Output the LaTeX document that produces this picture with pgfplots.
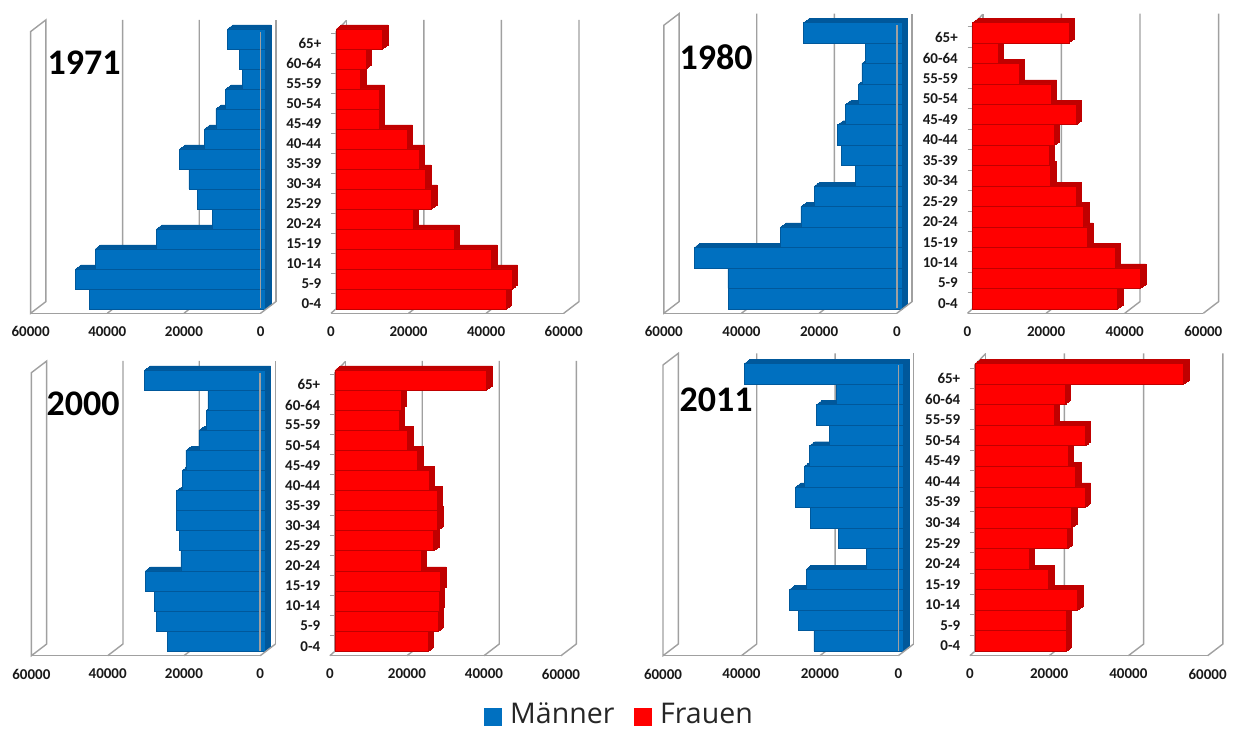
\documentclass[border=0pt]{standalone}
\usepackage{pgfplots}
\usepackage{pgfplotstable}
\usepackage{fontspec}
\pgfplotsset{compat=1.18}
\setmainfont{Carlito}
\newfontfamily\legendfont{Open Sans}
\definecolor{mblue}{HTML}{0070C0}
\definecolor{mbluedark}{HTML}{00589B}
\definecolor{mred}{HTML}{FF0000}
\definecolor{mreddark}{HTML}{C00000}
\definecolor{wallgray}{HTML}{A0A0A0}

% Values per age group: 0 = 0-4 ... 13 = 65+
\pgfplotstableread{
c v
0 46000
1 49600
2 44500
3 28500
4 13800
5 17700
6 20000
7 22400
8 16000
9 13000
10 10400
11 6100
12 6800
13 10000
}\mAa
\pgfplotstableread{
c v
0 43900
1 45400
2 40100
3 30400
4 19900
5 24600
6 23100
7 21400
8 18300
9 11100
10 11100
11 6300
12 7700
13 12000
}\fAa
\pgfplotstableread{
c v
0 44600
1 44800
2 53500
3 31200
4 26000
5 22600
6 11900
7 15500
8 16500
9 14500
10 11100
11 10300
12 9400
13 25300
}\mBb
\pgfplotstableread{
c v
0 36900
1 42700
2 36200
3 29300
4 28200
5 26400
6 19800
7 19400
8 20800
9 26300
10 20000
11 11800
12 6500
13 24500
}\fBb
\pgfplotstableread{
c v
0 25600
1 28600
2 29100
3 31500
4 22100
5 22600
6 23200
7 23200
8 21800
9 20800
10 17400
11 15400
12 15000
13 31600
}\mCc
\pgfplotstableread{
c v
0 24200
1 26800
2 27000
3 27400
4 22300
5 25600
6 26700
7 26500
8 24400
9 21400
10 18800
11 16700
12 17100
13 39400
}\fCc
\pgfplotstableread{
c v
0 22800
1 26700
2 29100
3 24800
4 9500
5 16500
6 23700
7 27500
8 25300
9 24000
10 18900
11 22200
12 17000
13 40600
}\mDd
\pgfplotstableread{
c v
0 23000
1 23000
2 25900
3 18600
4 13700
5 23300
6 24400
7 27800
8 25400
9 23500
10 27800
11 20000
12 22700
13 52600
}\fDd

\tikzset{wall/.style={draw=wallgray,line width=1.4pt}}
\pgfplotsset{
  panel/.style={
    scale only axis, clip=false,
    xmin=0, xmax=60000,
    ymax=13.5,
    xtick={0,20000,40000,60000},
    scaled x ticks=false,
    /pgf/number format/1000 sep={},
    /pgf/number format/assume math mode=true,
    major tick length=0pt,
    axis x line*=bottom,
    x axis line style={wallgray,line width=1.4pt},
    xticklabel style={font=\bfseries\fontsize{15}{15}\selectfont,inner sep=0pt,yshift=-13pt,text=black!90},
    xbar, bar width=1, bar shift=0pt,
  },
}
\newcommand{\extrude}[3]{%
  \addplot[forget plot,draw=#2,fill=#2,xshift=5.9pt,yshift=0.67pt] table[x=v,y=c] {#1};
  \addplot[forget plot,draw=#2,fill=#2,xshift=6.8pt,yshift=1.33pt] table[x=v,y=c] {#1};
  \addplot[forget plot,draw=#2,fill=#2,xshift=7.7pt,yshift=2pt] table[x=v,y=c] {#1};
  \addplot[forget plot,draw=#2,fill=#2,xshift=8.6pt,yshift=2.67pt] table[x=v,y=c] {#1};
  \addplot[forget plot,draw=#2,fill=#2,xshift=9.5pt,yshift=3.33pt] table[x=v,y=c] {#1};
  \addplot[forget plot,draw=#2,fill=#2,xshift=10.4pt,yshift=4pt] table[x=v,y=c] {#1};
  \addplot[forget plot,draw=#2,line width=0.5pt,fill=#3,xshift=5pt] table[x=v,y=c] {#1};
}
% #1 left px  #2 width px  #3 floor py  #4 unit per age group  #5 wall height  #6 table
\newcommand{\malepanel}[6]{%
  \pgfmathsetmacro{\ymn}{-0.5-4.5/#4}
  \pgfmathsetmacro{\axh}{14*#4+4.5}
  \pgfmathsetmacro{\axy}{729-#3}
  \begin{axis}[panel,at={(#1pt,\axy pt)},anchor=south west,
    width=#2pt,height=\axh pt,ymin=\ymn,x dir=reverse,axis y line=none]
    \draw[wall] (axis cs:60000,\ymn) -- ++(0pt,#5pt) -- ++(15.3pt,11.7pt) -- ++(0pt,-#5pt) -- cycle;
    \draw[wall] (axis cs:40000,\ymn) -- ++(15.3pt,11.7pt) -- ++(0pt,#5pt);
    \draw[wall] (axis cs:20000,\ymn) -- ++(15.3pt,11.7pt) -- ++(0pt,#5pt);
    \draw[wall] (axis cs:0,\ymn) ++(15.3pt,11.7pt) -- ++(0pt,#5pt);
    \extrude{#6}{mbluedark}{mblue}
    \draw[wall] (axis cs:0,\ymn) -- ++(15.3pt,11.7pt);
    \draw[wall] (axis cs:0,\ymn) ++(0pt,5pt) -- ++(0pt,{#5pt-5pt});
  \end{axis}
}
\newcommand{\femalepanel}[6]{%
  \pgfmathsetmacro{\ymn}{-0.5-4.5/#4}
  \pgfmathsetmacro{\axh}{14*#4+4.5}
  \pgfmathsetmacro{\axy}{729-#3}
  \begin{axis}[panel,at={(#1pt,\axy pt)},anchor=south west,
    width=#2pt,height=\axh pt,ymin=\ymn,
    axis y line*=left, y axis line style={draw=none},
    ytick={0,...,13},
    yticklabels={0-4,5-9,10-14,15-19,20-24,25-29,30-34,35-39,40-44,45-49,50-54,55-59,60-64,65+},
    yticklabel style={font=\bfseries\fontsize{15}{15}\selectfont,inner sep=0pt,xshift=-9.5pt,yshift=-5pt,text=black!90}]
    \draw[wall] (axis cs:0,\ymn) ++(15.3pt,11.7pt) -- ++(0pt,#5pt);
    \draw[wall] (axis cs:20000,\ymn) -- ++(15.3pt,11.7pt) -- ++(0pt,#5pt);
    \draw[wall] (axis cs:40000,\ymn) -- ++(15.3pt,11.7pt) -- ++(0pt,#5pt);
    \draw[wall] (axis cs:60000,\ymn) -- ++(15.3pt,11.7pt) -- ++(0pt,#5pt);
    \draw[wall] (axis cs:0,\ymn) -- ++(5pt,4.5pt) -- ++(0pt,{#5pt-4.5pt}) -- ++(10.3pt,11pt);
    \pgfplotsinvokeforeach{1,...,14}{
      \draw[wall,line width=1pt] (axis cs:0,{\ymn+##1}) -- ++(5pt,0pt);
    }
    \extrude{#6}{mreddark}{mred}
  \end{axis}
}

\begin{document}
\begin{tikzpicture}[x=1pt,y=1pt]
  \path[use as bounding box] (0,0) rectangle (1233,729);
  \malepanel{30.6}{230}{313.3}{20.0}{281.7}{\mAa}
  \femalepanel{331}{232.7}{313.3}{20.0}{281.7}{\fAa}
  \malepanel{663.8}{233}{313.3}{20.45}{288}{\mBb}
  \femalepanel{967.5}{235.8}{313.3}{20.45}{288}{\fBb}
  \malepanel{31.4}{228.8}{655.7}{20.1}{283}{\mCc}
  \femalepanel{329.9}{231.1}{655.7}{20.1}{283}{\fCc}
  \malepanel{663}{235.3}{655.7}{20.55}{290.7}{\mDd}
  \femalepanel{969.9}{237.7}{655.7}{20.55}{290.7}{\fDd}
  \node[font=\bfseries\fontsize{36}{36}\selectfont] at (84,666) {1971};
  \node[font=\bfseries\fontsize{36}{36}\selectfont] at (716,672) {1980};
  \node[font=\bfseries\fontsize{36}{36}\selectfont] at (83,325) {2000};
  \node[font=\bfseries\fontsize{36}{36}\selectfont] at (716,329) {2011};
  \fill[mblue] (484,3) rectangle (502,21);
  \node[anchor=base west,inner sep=0pt,font=\legendfont\fontsize{28.5}{30}\selectfont,text=black!85] at (510,6) {Männer};
  \fill[mred] (634,3) rectangle (652,21);
  \node[anchor=base west,inner sep=0pt,font=\legendfont\fontsize{28.5}{30}\selectfont,text=black!85] at (660,6) {Frauen};
\end{tikzpicture}
\end{document}
